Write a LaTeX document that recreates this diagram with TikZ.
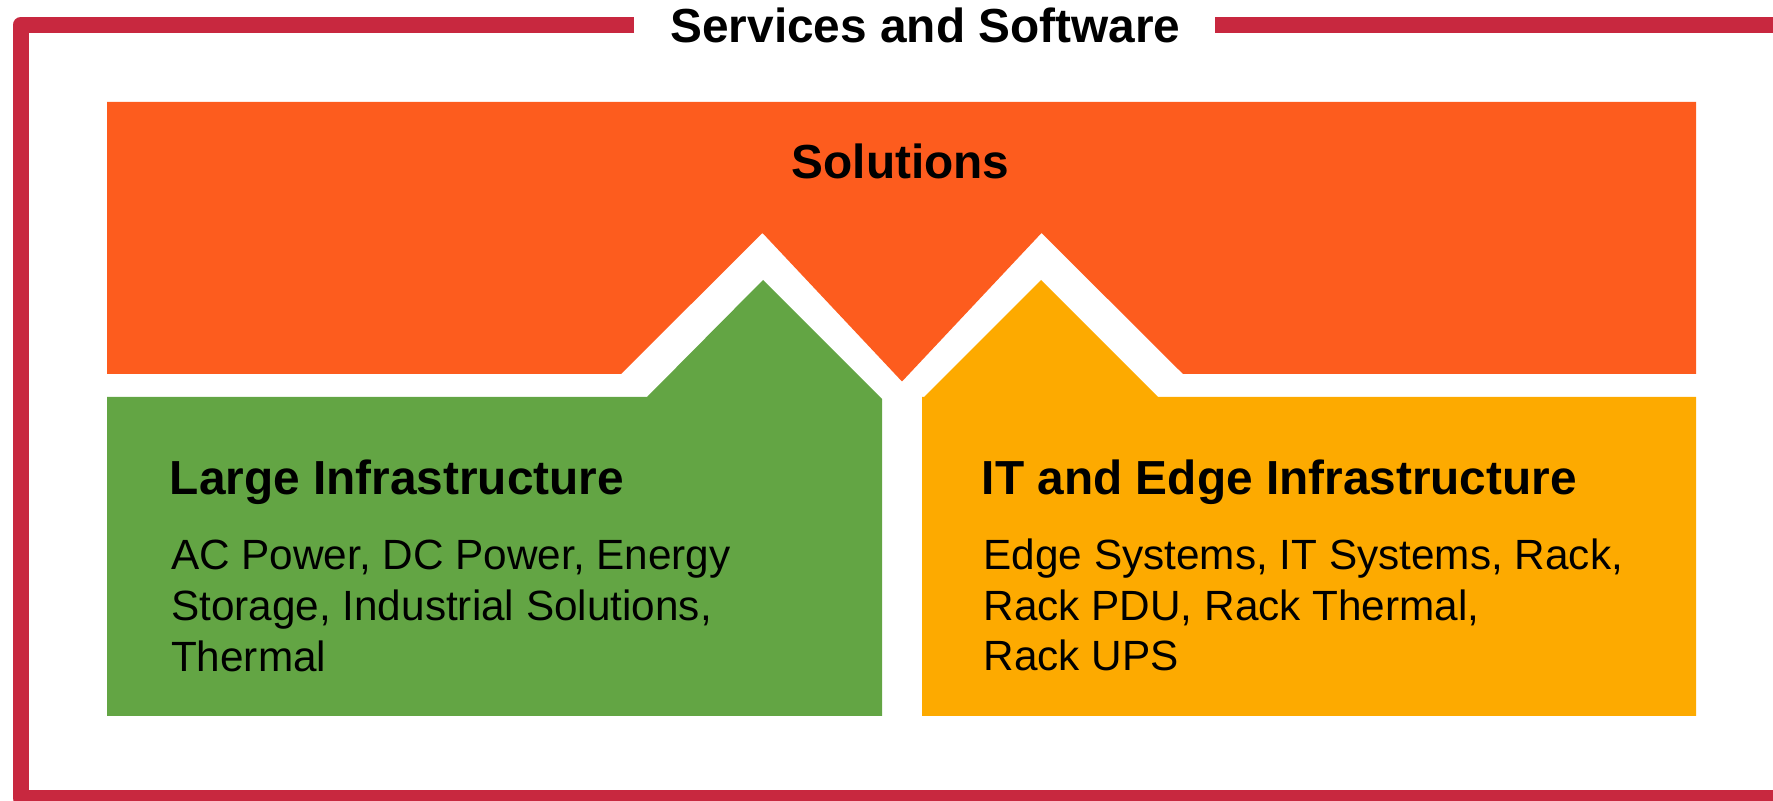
\documentclass[tikz,border=0pt]{standalone}
\usepackage{fontspec}
\setmainfont{Liberation Sans}
\definecolor{framered}{HTML}{C8283F}
\definecolor{solorange}{HTML}{FD5C1E}
\definecolor{largegreen}{HTML}{63A544}
\definecolor{edgeamber}{HTML}{FDAA00}
\begin{document}
\begin{tikzpicture}[x=0.5pt,y=-0.5pt,
  framestyle/.style={draw=framered, line width=8pt, line join=round},
  hdr/.style={font=\fontsize{23.9}{28}\selectfont\bfseries, inner sep=0pt, text=black},
  bodytxt/.style={font=\fontsize{21.15}{25}\selectfont, inner sep=0pt, text=black}]
\useasboundingbox (0,0) rectangle (1773,801);
\begin{scope}
  \clip (0,0) rectangle (1773,801);
  \draw[framestyle] (634,25) -- (20.5,25) -- (20.5,798) -- (1800,798);
  \draw[framestyle] (1215,25) -- (1800,25);
\end{scope}
% Solutions (orange) with two notches
\fill[solorange] (107,102) -- (1696,102) -- (1696,374) -- (1183,374)
  -- (1041.5,233) -- (902,381.5) -- (762.5,233) -- (621,374) -- (107,374) -- cycle;
% Large Infrastructure (green)
\fill[largegreen] (107,397) -- (647,397) -- (763,280) -- (882,399) -- (882,716) -- (107,716) -- cycle;
% IT and Edge Infrastructure (amber)
\fill[edgeamber] (922,397) -- (924,397) -- (1041,280) -- (1158,397) -- (1696,397) -- (1696,716) -- (922,716) -- cycle;
% texts
\node[hdr, anchor=base] (title) at (925.5,43) {Services and Software};
\node[hdr, anchor=base] (sol) at (900.5,178.5) {Solutions};
\node[hdr, anchor=base west] (largehd) at (169.5,495) {Large Infrastructure};
\node[bodytxt, anchor=base west] (largeA) at (170.7,569.5) {AC Power, DC Power, Energy};
\node[bodytxt, anchor=base west] (largeB) at (170.7,620.3) {Storage, Industrial Solutions,};
\node[bodytxt, anchor=base west] (largeC) at (170.7,671.2) {Thermal};
\node[hdr, anchor=base west] (edgehd) at (981.5,495) {IT and Edge Infrastructure};
\node[bodytxt, anchor=base west] (edgeA) at (983.2,569.3) {Edge Systems, IT Systems, Rack,};
\node[bodytxt, anchor=base west] (edgeB) at (983.2,620.2) {Rack PDU, Rack Thermal,};
\node[bodytxt, anchor=base west] (edgeC) at (983.2,670.8) {Rack UPS};
\end{tikzpicture}
\end{document}
